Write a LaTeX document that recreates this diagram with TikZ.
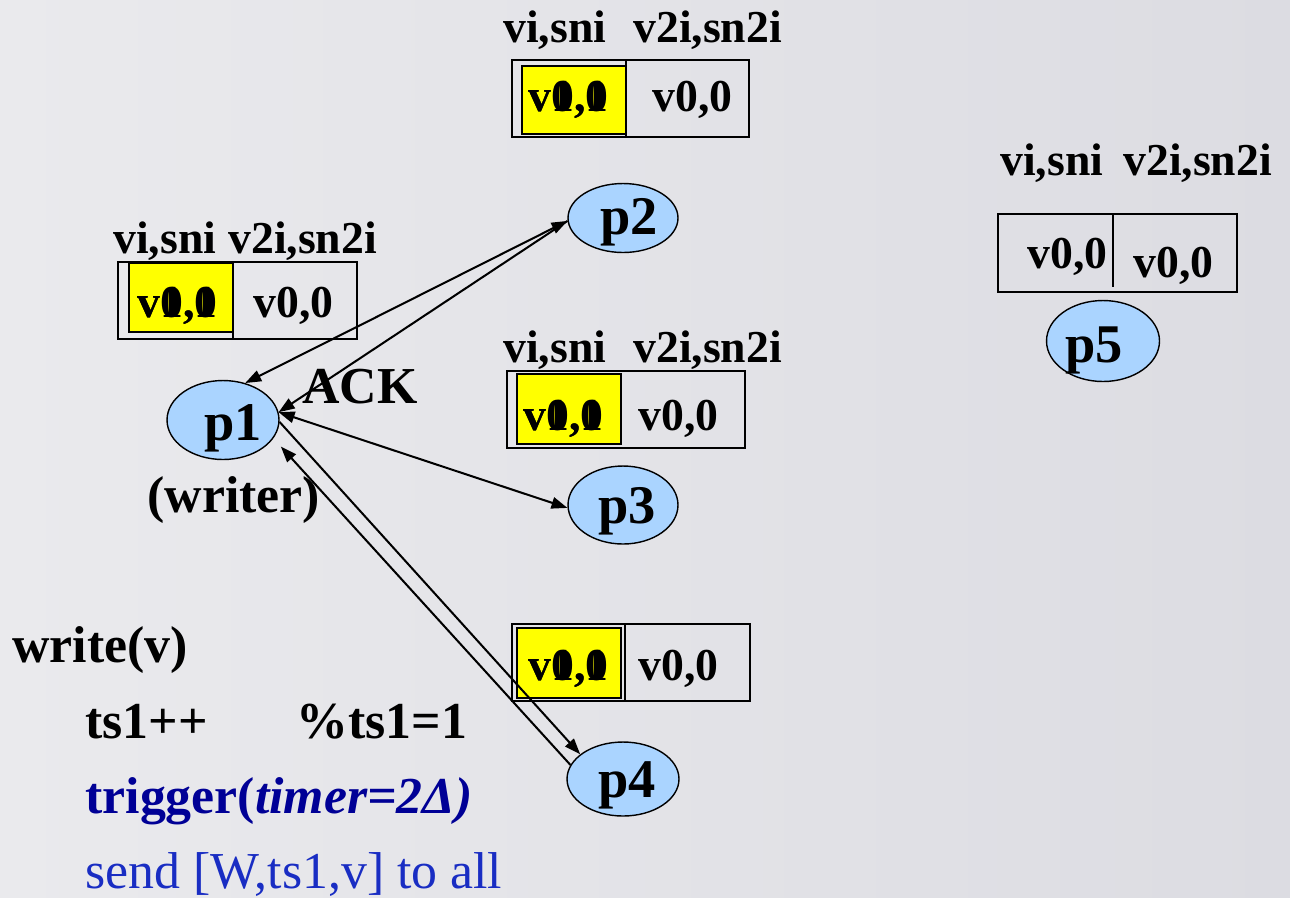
\documentclass[tikz,border=0pt]{standalone}
\usepackage{fontspec}
\setmainfont{Liberation Serif}
\usetikzlibrary{arrows.meta,shapes.geometric,calc}

\definecolor{bgL}{RGB}{234,234,237}
\definecolor{bgR}{RGB}{220,220,226}
\definecolor{procblue}{RGB}{170,212,255}
\definecolor{cellyellow}{RGB}{255,255,0}
\definecolor{trigblue}{RGB}{0,0,150}
\definecolor{sendblue}{RGB}{25,45,195}

\begin{document}
\begin{tikzpicture}[x=0.02cm,y=-0.02cm,
  proc/.style={ellipse, draw=black, line width=0.8pt, fill=procblue, inner sep=0pt},
  plabel/.style={font=\fontsize{31}{31}\selectfont\bfseries, anchor=base, inner sep=0pt},
  head/.style={font=\fontsize{26}{26}\selectfont\bfseries, anchor=base west, inner sep=0pt},
  cell/.style={font=\fontsize{26}{26}\selectfont\bfseries, anchor=base west, inner sep=0pt},
  big/.style={font=\fontsize{29.5}{29.5}\selectfont\bfseries, anchor=base west, inner sep=0pt},
  plain/.style={font=\fontsize{29.5}{29.5}\selectfont, anchor=base west, inner sep=0pt},
  frame/.style={draw=black, line width=0.8pt},
  ycell/.style={draw=black, line width=1pt, fill=cellyellow},
  tip/.tip={Triangle[length=0.32cm,width=0.23cm]},
  msg/.style={-tip, line width=1.15pt},
  msgboth/.style={tip-tip, line width=1.15pt}
]
% background
\shade[left color=bgL, right color=bgR] (0,0) rectangle (1290,897);
\useasboundingbox (0,0) rectangle (1290,897);

% ---- register of p2 ----
\draw[frame] (512,60) rectangle (749,137);
\draw[ycell] (522,66) rectangle (626,134);
\draw[frame] (626,60) -- (626,137);
\node[head] (hA1) at (503,42) {vi,sni};
\node[head] (hA2) at (633,42) {v2i,sn2i};
\node[cell] (cA0) at (528,111) {v0,0};
\node[cell] (cA1) at (528,111) {v1,1};
\node[cell] (cA2) at (652,111) {v0,0};

% ---- register of p1 ----
\draw[frame] (118,262) rectangle (357,339);
\draw[ycell] (129,263) rectangle (233,332);
\draw[frame] (233,262) -- (233,339);
\node[head] (hB1) at (113,253) {vi,sni};
\node[head] (hB2) at (228,253) {v2i,sn2i};
\node[cell] (cB0) at (137,317) {v0,0};
\node[cell] (cB1) at (137,317) {v1,1};
\node[cell] (cB2) at (253,317) {v0,0};

% ---- register of p3 ----
\draw[frame] (507,371) rectangle (745,448);
\draw[ycell] (517,374) rectangle (621,444);
\node[head] (hC1) at (503,362) {vi,sni};
\node[head] (hC2) at (633,362) {v2i,sn2i};
\node[cell] (cC0) at (523,430) {v0,0};
\node[cell] (cC1) at (523,430) {v1,1};
\node[cell] (cC2) at (638,430) {v0,0};

% ---- register of p4 ----
\draw[frame] (512,624) rectangle (750,701);
\draw[ycell] (517,628) rectangle (621,698);
\draw[frame] (625,624) -- (625,701);
\node[cell] (cD0) at (528,680) {v0,0};
\node[cell] (cD1) at (528,680) {v1,1};
\node[cell] (cD2) at (638,680) {v0,0};

% ---- register of p5 ----
\draw[frame] (998,214) rectangle (1237,292);
\draw[frame] (1113,214) -- (1113,287);
\node[head] (hE1) at (1000,175) {vi,sni};
\node[head] (hE2) at (1123,175) {v2i,sn2i};
\node[cell] (cE1) at (1027,268) {v0,0};
\node[cell] (cE2) at (1133,277) {v0,0};

% ---- processes ----
\node[proc, minimum width=2.24cm, minimum height=1.58cm] (p1) at (223,420) {};
\node[proc, minimum width=2.2cm,  minimum height=1.38cm] (p2) at (623,218) {};
\node[proc, minimum width=2.2cm,  minimum height=1.56cm] (p3) at (623,505) {};
\node[proc, minimum width=2.24cm, minimum height=1.48cm] (p4) at (623,779) {};
\node[proc, minimum width=2.26cm, minimum height=1.62cm] (p5) at (1103,341) {};
\node[plabel] (l1) at ($(p1)+(10,20)$) {p1};
\node[plabel] (l2) at ($(p2)+(6,16)$) {p2};
\node[plabel] (l3) at ($(p3)+(4,18)$) {p3};
\node[plabel] (l4) at ($(p4)+(4,18)$) {p4};
\node[plabel] (l5) at ($(p5)+(-9,21)$) {p5};

% ---- messages ----
\draw[msgboth] (p1.59) -- (p2.183);
\draw[msg] (p2.183) -- (p1.8);
\draw[msgboth] (p1.8) -- (p3.183);
\draw[msg] (p1.-2) -- (p4.150);
\draw[msg, shorten >=0.22cm] (p4.165) -- (p1.-20);

% ---- labels ----
\node[big] (ack) at (302,403) {ACK};
\node[big] (writer) at (147,512) {(writer)};

% ---- pseudo code ----
\node[big] (code1) at (12,662) {write(v)};
\node[big] (code2) at (85,738) {ts1++};
\node[big] (code3) at (296,738) {\%ts1=1};
\node[big, text=trigblue] (code4) at (85,813) {trigger(\textit{timer=2Δ)}};
\node[plain, text=sendblue] (code5) at (85,888) {send [W,ts1,v] to all};
\end{tikzpicture}
\end{document}
